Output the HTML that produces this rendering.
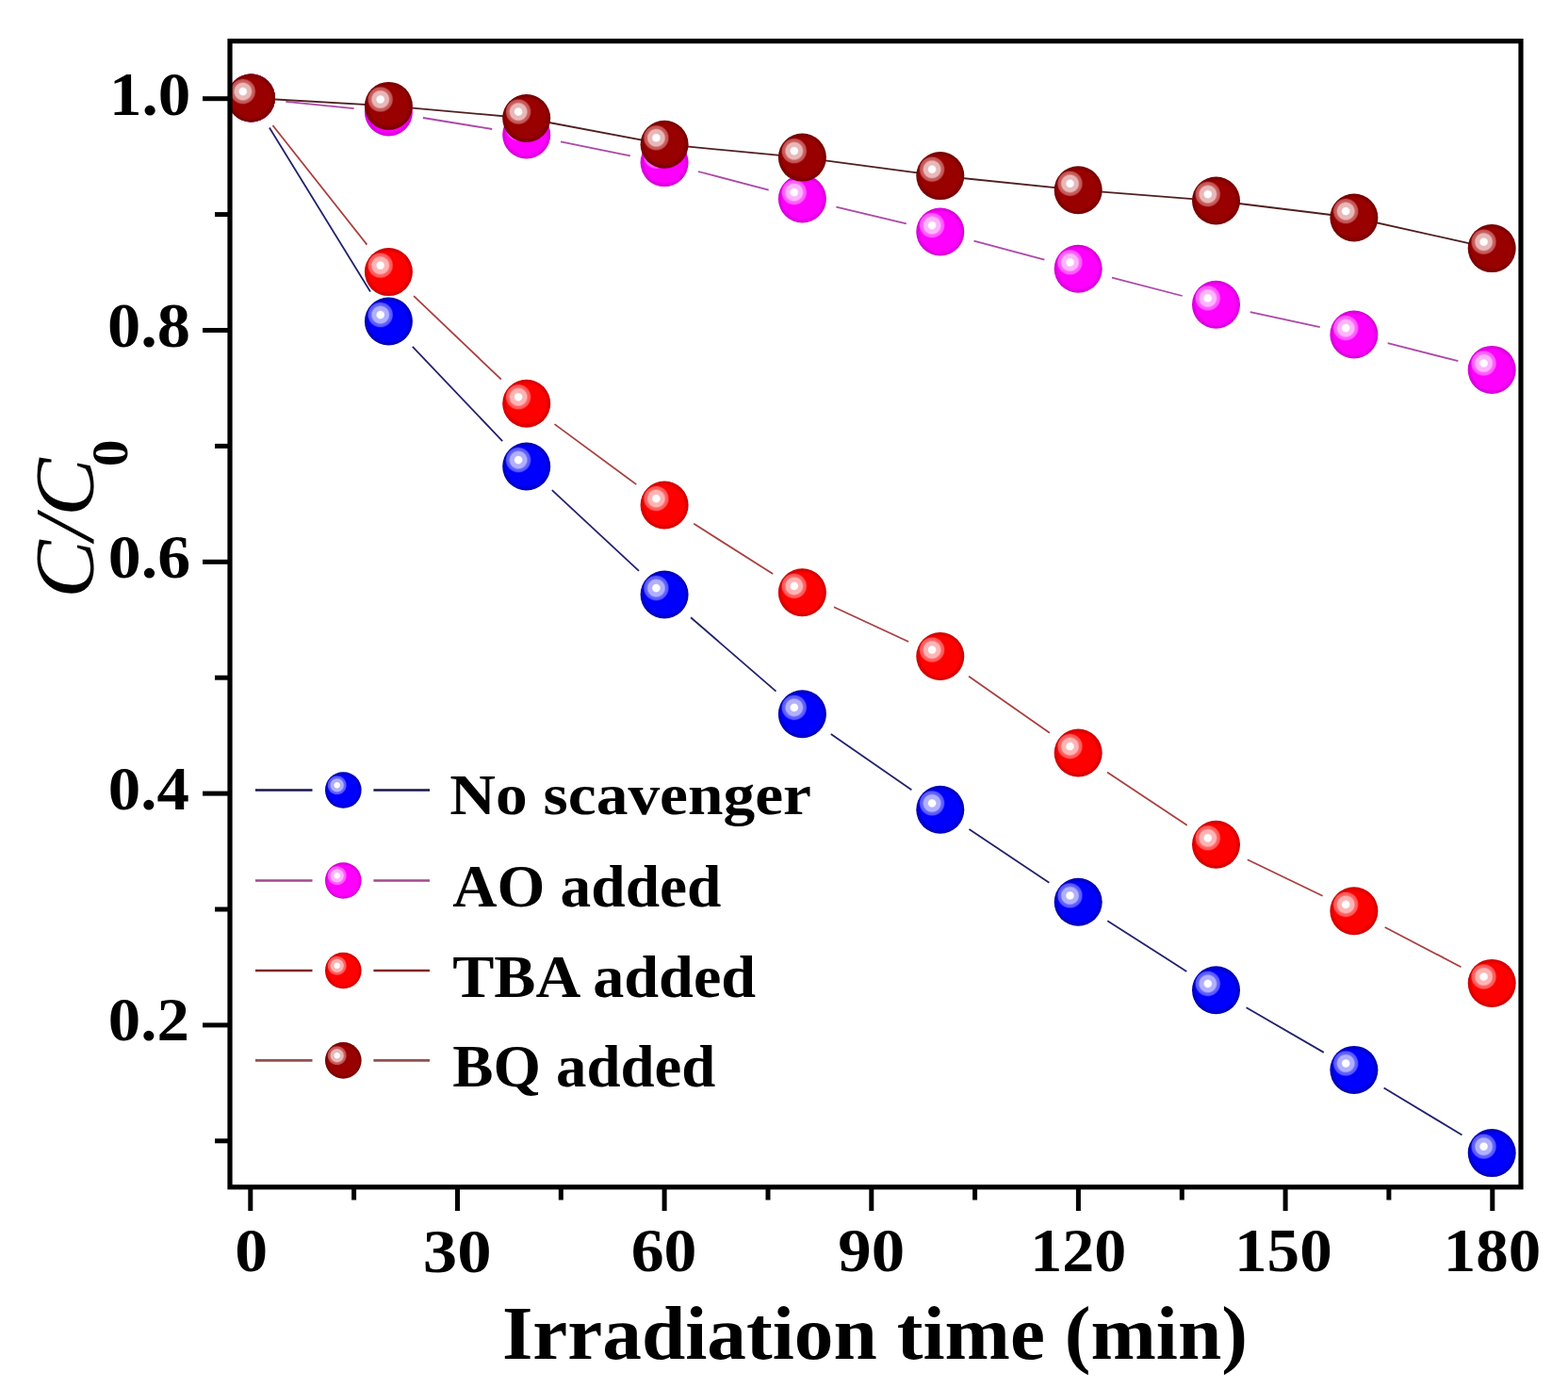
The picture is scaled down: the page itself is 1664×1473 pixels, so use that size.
<!DOCTYPE html>
<html><head><meta charset="utf-8"><title>C/C0 vs Irradiation time</title>
<style>html,body{margin:0;padding:0;background:#fff;}svg{display:block;}text{font-family:"Liberation Serif","Times New Roman",serif;font-weight:bold;fill:#000;}</style>
</head><body>
<svg width="1664" height="1473" viewBox="0 0 1664 1473">
<defs>
<radialGradient id="b_no" cx="0.5" cy="0.5" r="0.5"><stop offset="0" stop-color="#0000ff"/><stop offset="0.80" stop-color="#0000ff"/><stop offset="1" stop-color="#0000a8"/></radialGradient>
<radialGradient id="h_no" cx="0.5" cy="0.5" r="0.5"><stop offset="0" stop-color="#ffffff"/><stop offset="0.25" stop-color="#ffffff"/><stop offset="0.34" stop-color="#b0b0ff"/><stop offset="0.60" stop-color="#b0b0ff"/><stop offset="0.70" stop-color="#6868ff"/><stop offset="0.88" stop-color="#6868ff" stop-opacity="0.8"/><stop offset="1" stop-color="#0000ff" stop-opacity="0"/></radialGradient>
<radialGradient id="b_ao" cx="0.5" cy="0.5" r="0.5"><stop offset="0" stop-color="#ff00ff"/><stop offset="0.80" stop-color="#ff00ff"/><stop offset="1" stop-color="#d000d0"/></radialGradient>
<radialGradient id="h_ao" cx="0.5" cy="0.5" r="0.5"><stop offset="0" stop-color="#ffffff"/><stop offset="0.25" stop-color="#ffffff"/><stop offset="0.34" stop-color="#ffb4ff"/><stop offset="0.60" stop-color="#ffb4ff"/><stop offset="0.70" stop-color="#ff68ff"/><stop offset="0.88" stop-color="#ff68ff" stop-opacity="0.8"/><stop offset="1" stop-color="#ff00ff" stop-opacity="0"/></radialGradient>
<radialGradient id="b_tba" cx="0.5" cy="0.5" r="0.5"><stop offset="0" stop-color="#ff0000"/><stop offset="0.80" stop-color="#ff0000"/><stop offset="1" stop-color="#c80000"/></radialGradient>
<radialGradient id="h_tba" cx="0.5" cy="0.5" r="0.5"><stop offset="0" stop-color="#ffffff"/><stop offset="0.25" stop-color="#ffffff"/><stop offset="0.34" stop-color="#ffb4b4"/><stop offset="0.60" stop-color="#ffb4b4"/><stop offset="0.70" stop-color="#ff6868"/><stop offset="0.88" stop-color="#ff6868" stop-opacity="0.8"/><stop offset="1" stop-color="#ff0000" stop-opacity="0"/></radialGradient>
<radialGradient id="b_bq" cx="0.5" cy="0.5" r="0.5"><stop offset="0" stop-color="#990000"/><stop offset="0.80" stop-color="#990000"/><stop offset="1" stop-color="#700000"/></radialGradient>
<radialGradient id="h_bq" cx="0.5" cy="0.5" r="0.5"><stop offset="0" stop-color="#ffffff"/><stop offset="0.25" stop-color="#ffffff"/><stop offset="0.34" stop-color="#e8b8b8"/><stop offset="0.60" stop-color="#e8b8b8"/><stop offset="0.70" stop-color="#cc6464"/><stop offset="0.88" stop-color="#cc6464" stop-opacity="0.8"/><stop offset="1" stop-color="#990000" stop-opacity="0"/></radialGradient>
<clipPath id="plotclip"><rect x="244" y="43.6" width="1370" height="1216.2"/></clipPath>
</defs>
<line x1="265.8" y1="1262" x2="265.8" y2="1285" stroke="#000" stroke-width="5"/>
<line x1="485.5" y1="1262" x2="485.5" y2="1285" stroke="#000" stroke-width="5"/>
<line x1="705.1" y1="1262" x2="705.1" y2="1285" stroke="#000" stroke-width="5"/>
<line x1="924.8" y1="1262" x2="924.8" y2="1285" stroke="#000" stroke-width="5"/>
<line x1="1144.4" y1="1262" x2="1144.4" y2="1285" stroke="#000" stroke-width="5"/>
<line x1="1364.1" y1="1262" x2="1364.1" y2="1285" stroke="#000" stroke-width="5"/>
<line x1="1583.8" y1="1262" x2="1583.8" y2="1285" stroke="#000" stroke-width="5"/>
<line x1="375.6" y1="1262" x2="375.6" y2="1273.5" stroke="#000" stroke-width="5"/>
<line x1="595.3" y1="1262" x2="595.3" y2="1273.5" stroke="#000" stroke-width="5"/>
<line x1="815.0" y1="1262" x2="815.0" y2="1273.5" stroke="#000" stroke-width="5"/>
<line x1="1034.6" y1="1262" x2="1034.6" y2="1273.5" stroke="#000" stroke-width="5"/>
<line x1="1254.3" y1="1262" x2="1254.3" y2="1273.5" stroke="#000" stroke-width="5"/>
<line x1="1473.9" y1="1262" x2="1473.9" y2="1273.5" stroke="#000" stroke-width="5"/>
<line x1="215" y1="104.7" x2="242" y2="104.7" stroke="#000" stroke-width="5"/>
<line x1="215" y1="350.5" x2="242" y2="350.5" stroke="#000" stroke-width="5"/>
<line x1="215" y1="596.3" x2="242" y2="596.3" stroke="#000" stroke-width="5"/>
<line x1="215" y1="842.1" x2="242" y2="842.1" stroke="#000" stroke-width="5"/>
<line x1="215" y1="1087.9" x2="242" y2="1087.9" stroke="#000" stroke-width="5"/>
<line x1="228" y1="227.6" x2="242" y2="227.6" stroke="#000" stroke-width="5"/>
<line x1="228" y1="473.4" x2="242" y2="473.4" stroke="#000" stroke-width="5"/>
<line x1="228" y1="719.2" x2="242" y2="719.2" stroke="#000" stroke-width="5"/>
<line x1="228" y1="965.0" x2="242" y2="965.0" stroke="#000" stroke-width="5"/>
<line x1="228" y1="1210.8" x2="242" y2="1210.8" stroke="#000" stroke-width="5"/>
<g transform="matrix(1.0795,0,0,1.0310,-13.63,-4.31)"><text x="200" y="122.5" font-size="64" text-anchor="end">1.0</text></g>
<g transform="matrix(1.1013,0,0,1.0405,-18.16,-14.40)"><text x="200" y="368.0" font-size="64" text-anchor="end">0.8</text></g>
<g transform="matrix(1.0908,0,0,1.0286,-16.08,-17.84)"><text x="200" y="613.5" font-size="64" text-anchor="end">0.6</text></g>
<g transform="matrix(1.0766,0,0,1.0214,-14.35,-18.61)"><text x="200" y="859.0" font-size="64" text-anchor="end">0.4</text></g>
<g transform="matrix(1.0760,0,0,1.0214,-14.27,-24.28)"><text x="200" y="1104.5" font-size="64" text-anchor="end">0.2</text></g>
<g transform="matrix(1.0889,0,0,1.0143,-23.19,-19.69)"><text x="266.2" y="1349.5" font-size="64" text-anchor="middle">0</text></g>
<g transform="matrix(1.1373,0,0,1.0310,-67.20,-41.69)"><text x="485.7" y="1349.5" font-size="64" text-anchor="middle">30</text></g>
<g transform="matrix(1.0900,0,0,1.0310,-64.25,-41.99)"><text x="705.3" y="1349.5" font-size="64" text-anchor="middle">60</text></g>
<g transform="matrix(1.1085,0,0,1.0310,-100.38,-41.99)"><text x="924.8" y="1349.5" font-size="64" text-anchor="middle">90</text></g>
<g transform="matrix(1.0636,0,0,1.0310,-72.93,-41.89)"><text x="1144.4" y="1349.5" font-size="64" text-anchor="middle">120</text></g>
<g transform="matrix(1.0809,0,0,1.0310,-112.37,-41.89)"><text x="1363.9" y="1349.5" font-size="64" text-anchor="middle">150</text></g>
<g transform="matrix(1.0784,0,0,1.0310,-123.93,-41.89)"><text x="1583.4" y="1349.5" font-size="64" text-anchor="middle">180</text></g>
<g transform="matrix(1.0413,0,0,0.9973,-36.82,3.70)"><text x="927" y="1442" font-size="80" text-anchor="middle">Irradiation time (min)</text></g>
<g transform="matrix(0.9950,0,0,1.0345,-1.79,-18.02)"><text transform="translate(100,631) rotate(-90)" font-size="89" style="font-style:italic;font-weight:normal">C/C</text></g>
<g transform="matrix(0.9944,0,0,1.0391,-0.74,-17.95)"><text transform="translate(137,494) rotate(-90)" font-size="55">0</text></g>
<g transform="matrix(1.0533,0,0,0.9589,-29.30,34.04)"><text x="481" y="866.0" font-size="64">No scavenger</text></g>
<g transform="matrix(1.0217,0,0,0.9841,-11.24,15.50)"><text x="481" y="962.0" font-size="64">AO added</text></g>
<g transform="matrix(1.0348,0,0,0.9750,-17.59,27.62)"><text x="481" y="1057.3" font-size="64">TBA added</text></g>
<g transform="matrix(1.0128,0,0,0.9833,-6.96,19.98)"><text x="481" y="1152.5" font-size="64">BQ added</text></g>
<g clip-path="url(#plotclip)">
<path d="M285.9,135.5L393.0,309.5M437.8,367.8L533.2,468.2M585.8,520.2L678.0,605.8M733.0,655.2L823.5,733.6M881.8,778.9L967.4,838.2M1028.5,879.9L1113.4,936.7M1175.3,977.2L1259.3,1030.9M1322.6,1069.3L1404.8,1116.9M1468.6,1154.5L1551.5,1204.5" fill="none" stroke="#22226e" stroke-width="1.8"/>
<circle cx="266.5" cy="104.0" r="25.5" fill="url(#b_no)"/><circle cx="257.8" cy="97.1" r="14.3" fill="url(#h_no)"/>
<circle cx="412.4" cy="341.0" r="25.5" fill="url(#b_no)"/><circle cx="403.7" cy="334.1" r="14.3" fill="url(#h_no)"/>
<circle cx="558.7" cy="495.0" r="25.5" fill="url(#b_no)"/><circle cx="550.1" cy="488.1" r="14.3" fill="url(#h_no)"/>
<circle cx="705.1" cy="631.0" r="25.5" fill="url(#b_no)"/><circle cx="696.4" cy="624.1" r="14.3" fill="url(#h_no)"/>
<circle cx="851.4" cy="757.8" r="25.5" fill="url(#b_no)"/><circle cx="842.8" cy="750.9" r="14.3" fill="url(#h_no)"/>
<circle cx="997.8" cy="859.3" r="25.5" fill="url(#b_no)"/><circle cx="989.1" cy="852.4" r="14.3" fill="url(#h_no)"/>
<circle cx="1144.2" cy="957.3" r="25.5" fill="url(#b_no)"/><circle cx="1135.5" cy="950.4" r="14.3" fill="url(#h_no)"/>
<circle cx="1290.5" cy="1050.8" r="25.5" fill="url(#b_no)"/><circle cx="1281.8" cy="1043.9" r="14.3" fill="url(#h_no)"/>
<circle cx="1436.9" cy="1135.4" r="25.5" fill="url(#b_no)"/><circle cx="1428.2" cy="1128.5" r="14.3" fill="url(#h_no)"/>
<circle cx="1583.2" cy="1223.6" r="25.5" fill="url(#b_no)"/><circle cx="1574.6" cy="1216.7" r="14.3" fill="url(#h_no)"/>
<path d="M303.3,107.8L375.6,115.2M448.9,125.0L522.2,137.0M595.0,150.3L668.8,165.3M740.9,182.0L815.7,201.6M887.4,219.6L961.8,237.4M1033.5,255.6L1108.4,275.7M1180.0,294.6L1254.7,314.0M1326.7,331.1L1400.7,347.2M1472.7,364.2L1547.4,383.2" fill="none" stroke="#ac48a8" stroke-width="1.8"/>
<circle cx="266.5" cy="104.0" r="25.5" fill="url(#b_ao)"/><circle cx="257.8" cy="97.1" r="14.3" fill="url(#h_ao)"/>
<circle cx="412.4" cy="119.0" r="25.5" fill="url(#b_ao)"/><circle cx="403.7" cy="112.1" r="14.3" fill="url(#h_ao)"/>
<circle cx="558.7" cy="143.0" r="25.5" fill="url(#b_ao)"/><circle cx="550.1" cy="136.1" r="14.3" fill="url(#h_ao)"/>
<circle cx="705.1" cy="172.6" r="25.5" fill="url(#b_ao)"/><circle cx="696.4" cy="165.7" r="14.3" fill="url(#h_ao)"/>
<circle cx="851.4" cy="211.0" r="25.5" fill="url(#b_ao)"/><circle cx="842.8" cy="204.1" r="14.3" fill="url(#h_ao)"/>
<circle cx="997.8" cy="246.0" r="25.5" fill="url(#b_ao)"/><circle cx="989.1" cy="239.1" r="14.3" fill="url(#h_ao)"/>
<circle cx="1144.2" cy="285.3" r="25.5" fill="url(#b_ao)"/><circle cx="1135.5" cy="278.4" r="14.3" fill="url(#h_ao)"/>
<circle cx="1290.5" cy="323.3" r="25.5" fill="url(#b_ao)"/><circle cx="1281.8" cy="316.4" r="14.3" fill="url(#h_ao)"/>
<circle cx="1436.9" cy="355.0" r="25.5" fill="url(#b_ao)"/><circle cx="1428.2" cy="348.1" r="14.3" fill="url(#h_ao)"/>
<circle cx="1583.2" cy="392.4" r="25.5" fill="url(#b_ao)"/><circle cx="1574.6" cy="385.5" r="14.3" fill="url(#h_ao)"/>
<path d="M289.4,133.0L389.4,259.6M439.1,314.1L531.9,402.7M588.5,450.1L675.3,514.1M736.3,555.8L820.2,609.0M885.0,644.3L964.2,681.0M1028.1,717.7L1113.9,777.8M1175.0,819.5L1259.7,875.7M1323.8,912.3L1403.6,950.7M1469.7,984.0L1550.5,1026.2" fill="none" stroke="#a84040" stroke-width="1.8"/>
<circle cx="266.5" cy="104.0" r="25.5" fill="url(#b_tba)"/><circle cx="257.8" cy="97.1" r="14.3" fill="url(#h_tba)"/>
<circle cx="412.4" cy="288.6" r="25.5" fill="url(#b_tba)"/><circle cx="403.7" cy="281.7" r="14.3" fill="url(#h_tba)"/>
<circle cx="558.7" cy="428.2" r="25.5" fill="url(#b_tba)"/><circle cx="550.1" cy="421.3" r="14.3" fill="url(#h_tba)"/>
<circle cx="705.1" cy="536.0" r="25.5" fill="url(#b_tba)"/><circle cx="696.4" cy="529.1" r="14.3" fill="url(#h_tba)"/>
<circle cx="851.4" cy="628.8" r="25.5" fill="url(#b_tba)"/><circle cx="842.8" cy="621.9" r="14.3" fill="url(#h_tba)"/>
<circle cx="997.8" cy="696.5" r="25.5" fill="url(#b_tba)"/><circle cx="989.1" cy="689.6" r="14.3" fill="url(#h_tba)"/>
<circle cx="1144.2" cy="799.0" r="25.5" fill="url(#b_tba)"/><circle cx="1135.5" cy="792.1" r="14.3" fill="url(#h_tba)"/>
<circle cx="1290.5" cy="896.2" r="25.5" fill="url(#b_tba)"/><circle cx="1281.8" cy="889.3" r="14.3" fill="url(#h_tba)"/>
<circle cx="1436.9" cy="966.8" r="25.5" fill="url(#b_tba)"/><circle cx="1428.2" cy="959.9" r="14.3" fill="url(#h_tba)"/>
<circle cx="1583.2" cy="1043.4" r="25.5" fill="url(#b_tba)"/><circle cx="1574.6" cy="1036.5" r="14.3" fill="url(#h_tba)"/>
<path d="M266.5,104.0L412.4,112.4M412.4,112.4L558.7,125.5M558.7,125.5L705.1,153.2M705.1,153.2L851.4,167.1M851.4,167.1L997.8,186.6M997.8,186.6L1144.2,201.7M1144.2,201.7L1290.5,213.0M1290.5,213.0L1436.9,231.0M1436.9,231.0L1583.2,263.6" fill="none" stroke="#502020" stroke-width="1.8"/>
<circle cx="266.5" cy="104.0" r="25.5" fill="url(#b_bq)"/><circle cx="257.8" cy="97.1" r="14.3" fill="url(#h_bq)"/>
<circle cx="412.4" cy="112.4" r="25.5" fill="url(#b_bq)"/><circle cx="403.7" cy="105.5" r="14.3" fill="url(#h_bq)"/>
<circle cx="558.7" cy="125.5" r="25.5" fill="url(#b_bq)"/><circle cx="550.1" cy="118.6" r="14.3" fill="url(#h_bq)"/>
<circle cx="705.1" cy="153.2" r="25.5" fill="url(#b_bq)"/><circle cx="696.4" cy="146.3" r="14.3" fill="url(#h_bq)"/>
<circle cx="851.4" cy="167.1" r="25.5" fill="url(#b_bq)"/><circle cx="842.8" cy="160.2" r="14.3" fill="url(#h_bq)"/>
<circle cx="997.8" cy="186.6" r="25.5" fill="url(#b_bq)"/><circle cx="989.1" cy="179.7" r="14.3" fill="url(#h_bq)"/>
<circle cx="1144.2" cy="201.7" r="25.5" fill="url(#b_bq)"/><circle cx="1135.5" cy="194.8" r="14.3" fill="url(#h_bq)"/>
<circle cx="1290.5" cy="213.0" r="25.5" fill="url(#b_bq)"/><circle cx="1281.8" cy="206.1" r="14.3" fill="url(#h_bq)"/>
<circle cx="1436.9" cy="231.0" r="25.5" fill="url(#b_bq)"/><circle cx="1428.2" cy="224.1" r="14.3" fill="url(#h_bq)"/>
<circle cx="1583.2" cy="263.6" r="25.5" fill="url(#b_bq)"/><circle cx="1574.6" cy="256.7" r="14.3" fill="url(#h_bq)"/>
</g>
<rect x="244" y="43.6" width="1370" height="1216.2" fill="none" stroke="#000" stroke-width="5.2"/>
<path d="M271,838.5H331.5M396.4,838.5H456" stroke="#16164e" stroke-width="2.6"/>
<circle cx="364.3" cy="838.5" r="19.3" fill="url(#b_no)"/><circle cx="357.7" cy="833.3" r="10.8" fill="url(#h_no)"/>
<path d="M271,934.5H331.5M396.4,934.5H456" stroke="#a44a8c" stroke-width="2.6"/>
<circle cx="364.3" cy="934.5" r="19.3" fill="url(#b_ao)"/><circle cx="357.7" cy="929.3" r="10.8" fill="url(#h_ao)"/>
<path d="M271,1030.0H331.5M396.4,1030.0H456" stroke="#842424" stroke-width="2.6"/>
<circle cx="364.3" cy="1030.0" r="19.3" fill="url(#b_tba)"/><circle cx="357.7" cy="1024.8" r="10.8" fill="url(#h_tba)"/>
<path d="M271,1125.4H331.5M396.4,1125.4H456" stroke="#925050" stroke-width="2.6"/>
<circle cx="364.3" cy="1125.4" r="19.3" fill="url(#b_bq)"/><circle cx="357.7" cy="1120.2" r="10.8" fill="url(#h_bq)"/>
</svg>
</body></html>
